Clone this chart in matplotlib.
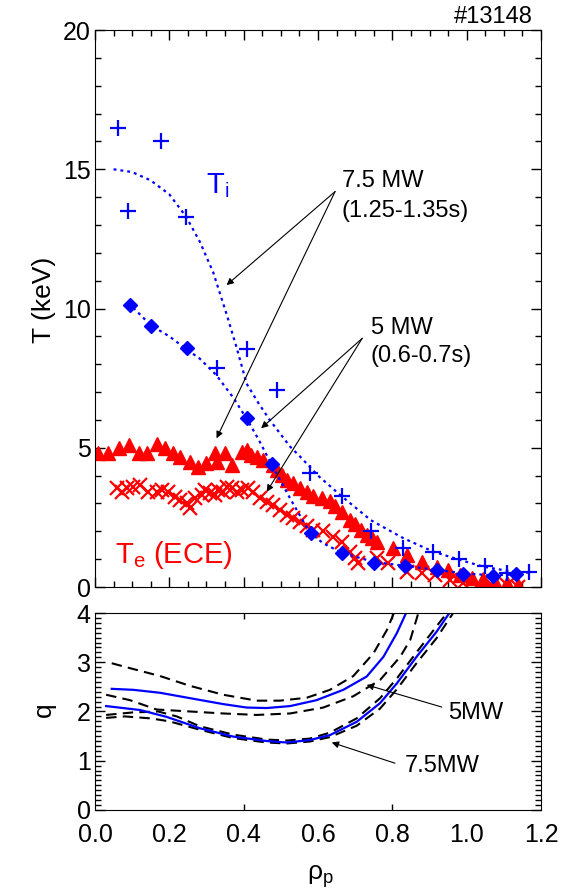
import matplotlib
matplotlib.use('Agg')
import matplotlib.pyplot as plt
from matplotlib.ticker import MultipleLocator, FixedLocator

plt.rcParams['font.family'] = ['Liberation Sans', 'DejaVu Sans']
plt.rcParams['mathtext.fontset'] = 'custom'
plt.rcParams['mathtext.rm'] = 'Liberation Sans'
plt.rcParams['mathtext.it'] = 'Liberation Sans:italic'
plt.rcParams['mathtext.default'] = 'regular'

# Ti, 7.5 MW (crosses) and fit
rho_ti75 = [0.062, 0.09, 0.177, 0.245, 0.327, 0.41, 0.49, 0.578, 0.665, 0.742,
            0.83, 0.91, 0.98, 1.049, 1.108, 1.168]
ti75 = [16.5, 13.5, 16.0, 13.3, 7.85, 8.54, 7.07, 4.1, 3.27, 2.01,
        1.41, 1.25, 0.99, 0.77, 0.52, 0.55]
rho_ti75_fit = [0.05, 0.1, 0.15, 0.2, 0.245, 0.282, 0.318, 0.354, 0.381, 0.408,
                0.44, 0.47, 0.525, 0.552, 0.6, 0.66, 0.742, 0.83, 0.91, 0.98,
                1.045, 1.11, 1.17]
ti75_fit = [15.0, 14.9, 14.6, 14.1, 13.3, 12.4, 11.3, 9.8, 8.6, 7.3,
            6.6, 6.0, 5.04, 4.68, 4.0, 3.3, 2.4, 1.75, 1.27, 0.98,
            0.73, 0.58, 0.51]

# Ti, 5 MW (diamonds) and fit
rho_ti5 = [0.094, 0.152, 0.247, 0.41, 0.475, 0.58, 0.664, 0.75, 0.835, 0.921,
           0.989, 1.07, 1.134]
ti5 = [10.13, 9.38, 8.57, 6.06, 4.4, 1.95, 1.23, 0.87, 0.77, 0.61,
       0.47, 0.41, 0.47]
rho_ti5_fit = [0.09, 0.15, 0.2, 0.25, 0.282, 0.327, 0.372, 0.41, 0.44, 0.475,
               0.525, 0.578, 0.614, 0.664, 0.75, 0.835, 0.92, 1.0, 1.07, 1.134]
ti5_fit = [10.2, 9.4, 9.0, 8.5, 8.2, 7.6, 6.8, 6.0, 5.3, 4.4,
           3.18, 1.95, 1.57, 1.23, 0.9, 0.76, 0.61, 0.48, 0.42, 0.45]

# Te (ECE), 7.5 MW (triangles)
rho_te75 = [0.009, 0.036, 0.065, 0.092, 0.119, 0.141, 0.166, 0.188, 0.211, 0.23,
            0.256, 0.278, 0.30, 0.323, 0.327, 0.35, 0.368, 0.395, 0.408, 0.42,
            0.435, 0.453, 0.478, 0.489, 0.502, 0.516, 0.534, 0.552, 0.57, 0.587,
            0.61, 0.632, 0.646, 0.664, 0.686, 0.70, 0.717, 0.731, 0.744, 0.758,
            0.803, 0.839, 0.879, 0.919, 0.95, 0.982, 1.013, 1.045, 1.076, 1.108,
            1.139]
te75 = [4.80, 4.80, 4.98, 5.10, 4.80, 4.80, 5.13, 4.98, 4.80, 4.68,
        4.50, 4.32, 4.44, 4.80, 4.50, 4.80, 4.38, 4.86, 4.92, 4.74,
        4.68, 4.56, 4.38, 4.20, 4.02, 3.84, 3.72, 3.55, 3.42, 3.26,
        3.18, 3.08, 2.91, 2.70, 2.41, 2.26, 2.05, 1.87, 1.75, 1.63,
        1.39, 1.15, 0.91, 0.73, 0.61, 0.43, 0.31, 0.28, 0.19, 0.13,
        0.07]

# Te (ECE), 5 MW (x)
rho_te5 = [0.058, 0.072, 0.085, 0.103, 0.121, 0.143, 0.166, 0.179, 0.197, 0.215,
           0.229, 0.247, 0.256, 0.269, 0.287, 0.296, 0.309, 0.323, 0.332, 0.345,
           0.354, 0.368, 0.381, 0.395, 0.412, 0.426, 0.444, 0.462, 0.48, 0.498,
           0.516, 0.534, 0.552, 0.57, 0.587, 0.614, 0.641, 0.664, 0.686, 0.70,
           0.708, 0.758, 0.789, 0.839, 0.879, 0.915, 0.955, 0.991, 1.027, 1.067,
           1.108, 1.139]
te5 = [3.54, 3.42, 3.54, 3.60, 3.66, 3.42, 3.42, 3.48, 3.42, 3.24,
       3.12, 3.0, 2.82, 3.18, 3.30, 3.48, 3.36, 3.30, 3.48, 3.42,
       3.60, 3.54, 3.42, 3.48, 3.54, 3.42, 3.18, 3.06, 2.94, 2.76,
       2.59, 2.47, 2.35, 2.2, 2.05, 2.0, 1.81, 1.63, 1.27, 1.03,
       0.85, 1.03, 0.85, 0.55, 0.49, 0.43, 0.25, 0.13, 0.04, 0.07,
       0.07, 0.01]

# q profiles
rho_q5 = [0.045, 0.103, 0.175, 0.256, 0.345, 0.408, 0.462, 0.525, 0.596, 0.668,
          0.731, 0.776, 0.812, 0.84]
q5 = [2.46, 2.44, 2.38, 2.27, 2.15, 2.08, 2.07, 2.11, 2.23, 2.44,
      2.71, 3.11, 3.59, 4.05]
rho_q5_hi = [0.045, 0.094, 0.175, 0.256, 0.345, 0.435, 0.498, 0.57, 0.632, 0.695,
             0.749, 0.785, 0.807]
q5_hi = [2.98, 2.88, 2.72, 2.52, 2.34, 2.22, 2.22, 2.28, 2.44, 2.72,
         3.18, 3.65, 4.05]
rho_q5_lo = [0.03, 0.094, 0.166, 0.256, 0.345, 0.435, 0.525, 0.614, 0.695, 0.767,
             0.821, 0.848, 0.872]
q5_lo = [2.34, 2.23, 2.04, 2.0, 1.96, 1.93, 1.96, 2.08, 2.31, 2.64,
         3.11, 3.45, 4.05]
rho_q75 = [0.03, 0.121, 0.193, 0.282, 0.372, 0.462, 0.516, 0.578, 0.632, 0.704,
           0.767, 0.812, 0.865, 0.919, 0.958]
q75 = [2.11, 2.03, 1.89, 1.66, 1.49, 1.40, 1.37, 1.42, 1.52, 1.79,
       2.17, 2.57, 3.11, 3.62, 4.05]
rho_q75_hi = [0.03, 0.1, 0.17, 0.22, 0.282, 0.372, 0.462, 0.516, 0.578, 0.632,
              0.704, 0.767, 0.812, 0.865, 0.919, 0.952]
q75_hi = [1.93, 1.98, 2.0, 1.9, 1.70, 1.53, 1.43, 1.41, 1.45, 1.57,
          1.86, 2.27, 2.67, 3.2, 3.73, 4.05]
rho_q75_lo = [0.03, 0.08, 0.15, 0.2, 0.282, 0.372, 0.462, 0.516, 0.578, 0.632,
              0.704, 0.767, 0.812, 0.865, 0.919, 0.968]
q75_lo = [1.87, 1.90, 1.86, 1.80, 1.63, 1.46, 1.37, 1.35, 1.39, 1.48,
          1.71, 2.06, 2.45, 2.98, 3.49, 4.05]

blue = '#0000ff'
red = '#ff0000'

fig = plt.figure(figsize=(5.75, 8.94), dpi=100)
ax1 = fig.add_axes([0.1652, 0.3434, 0.7757, 0.623])
ax2 = fig.add_axes([0.1652, 0.0940, 0.7757, 0.2203])

# top panel: temperatures
ax1.plot(rho_te75, te75, '^', color=red, ms=10, mec=red)
ax1.plot(rho_te5, te5, 'x', color=red, ms=10, mew=1.6)
ax1.plot(rho_ti75_fit, ti75_fit, color=blue, lw=1.6, ls=(0, (1.3, 1.8)))
ax1.plot(rho_ti5_fit, ti5_fit, color=blue, lw=1.6, ls=(0, (1.3, 1.8)))
ax1.plot(rho_ti75, ti75, '+', color=blue, ms=11, mew=1.6)
ax1.plot(rho_ti5, ti5, 'D', color=blue, ms=7.5)

ax1.set_xlim(0, 1.2)
ax1.set_ylim(0, 20)
ax1.xaxis.set_major_locator(MultipleLocator(0.2))
ax1.xaxis.set_minor_locator(MultipleLocator(0.05))
ax1.yaxis.set_major_locator(MultipleLocator(5))
ax1.yaxis.set_minor_locator(MultipleLocator(1))
ax1.tick_params(which='both', direction='in', top=True, right=True, width=1)
ax1.tick_params(which='major', length=7, labelsize=18, pad=3)
ax1.tick_params(which='minor', length=4)
ax1.tick_params(axis='x', labelbottom=False)

arrow = dict(arrowstyle='-|>', color='k', lw=0.8, mutation_scale=10,
             shrinkA=0, shrinkB=0)
for tip in [(0.354, 10.84), (0.327, 5.34)]:
    ax1.annotate('', xy=tip, xytext=(0.646, 14.2), arrowprops=arrow)
for tip in [(0.447, 5.70), (0.462, 3.42)]:
    ax1.annotate('', xy=tip, xytext=(0.719, 8.93), arrowprops=arrow)
ax1.text(0.664, 14.36, '7.5 MW', fontsize=17, va='baseline')
ax1.text(0.664, 13.30, '(1.25-1.35s)', fontsize=17, va='baseline')
ax1.text(0.742, 9.08, '5 MW', fontsize=17, va='baseline')
ax1.text(0.742, 8.09, '(0.6-0.7s)', fontsize=17, va='baseline')
ax1.text(0.298, 14.15, 'T$_i$', color=blue, fontsize=21, va='baseline')
ax1.text(0.054, 0.87, 'T$_e$ (ECE)', color=red, fontsize=21, va='baseline')

# bottom panel: q profiles
dash = (0, (5, 3))
for r, q in [(rho_q5_hi, q5_hi), (rho_q5_lo, q5_lo),
             (rho_q75_hi, q75_hi), (rho_q75_lo, q75_lo)]:
    ax2.plot(r, q, color='k', lw=1.5, ls=dash)
ax2.plot(rho_q5, q5, color=blue, lw=1.6)
ax2.plot(rho_q75, q75, color=blue, lw=1.6)

ax2.set_xlim(0, 1.2)
ax2.set_ylim(0, 4)
ax2.xaxis.set_major_locator(MultipleLocator(0.2))
ax2.xaxis.remove_overlapping_locs = False
ax2.xaxis.set_minor_locator(FixedLocator([0.4, 0.8]))
ax2.yaxis.set_major_locator(MultipleLocator(1))
ax2.yaxis.set_minor_locator(MultipleLocator(0.1))
ax2.tick_params(which='both', direction='in', top=True, right=True, width=1)
ax2.tick_params(which='major', length=7, labelsize=18, pad=3)
ax2.tick_params(axis='x', which='major', length=0, pad=9.5)
ax2.tick_params(which='minor', length=4)

ax2.annotate('', xy=(0.731, 2.54), xytext=(0.933, 2.09), arrowprops=arrow)
ax2.annotate('', xy=(0.637, 1.37), xytext=(0.807, 0.95), arrowprops=arrow)
ax2.text(0.950, 1.84, '5MW', fontsize=17, va='baseline')
ax2.text(0.834, 0.78, '7.5MW', fontsize=17, va='baseline')

fig.text(44 / 575, 1 - 300 / 894, 'T (keV)', rotation=90, fontsize=19,
         ha='center', va='center')
fig.text(44 / 575, 1 - 710 / 894, 'q', rotation=90, fontsize=19,
         ha='center', va='center')
fig.text(320 / 575, 1 - 877 / 894, 'ρ$_p$', fontsize=19,
         ha='center', va='center')
fig.text(533 / 575, 1 - 22.7 / 894, '#13148', fontsize=17,
         ha='right', va='baseline')

fig.savefig('out.png', dpi=100)
